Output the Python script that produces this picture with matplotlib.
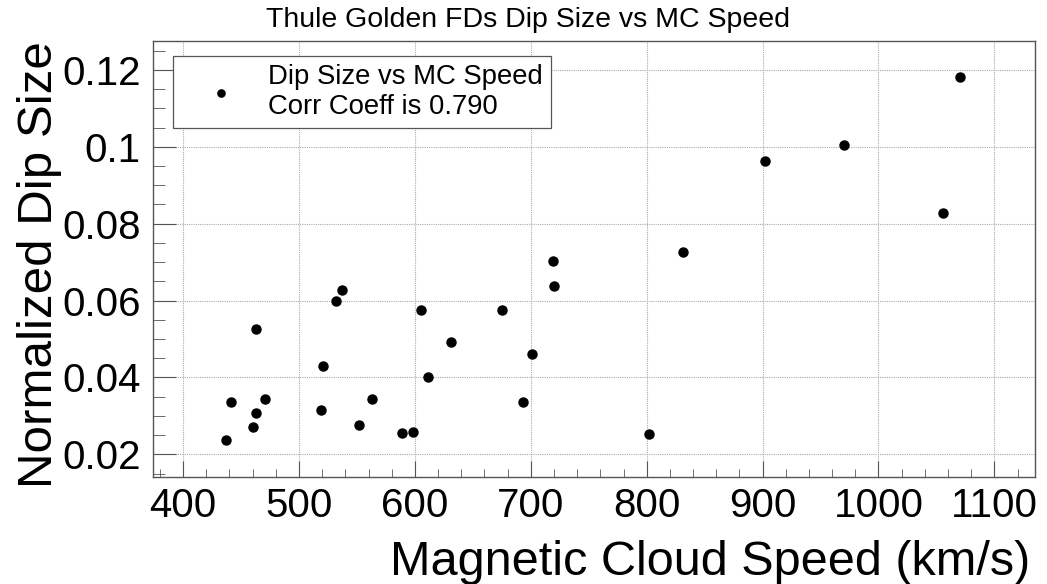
#!/usr/bin/env python3
from matplotlib import pyplot as plt
from matplotlib.ticker import MultipleLocator

# MC speed (km/s) and normalized dip size
mc_speed = [437, 441, 460, 463, 463, 471, 519, 521, 532, 537,
            552, 563, 589, 598, 605, 611, 631, 675, 693, 701,
            719, 720, 802, 831, 902, 970, 1056, 1070]
dip_size = [0.0236, 0.0335, 0.0271, 0.0308, 0.0525, 0.0344, 0.0314, 0.0430, 0.0600, 0.0628,
            0.0277, 0.0343, 0.0255, 0.0258, 0.0575, 0.0400, 0.0492, 0.0575, 0.0337, 0.0461,
            0.0703, 0.0638, 0.0253, 0.0727, 0.0963, 0.1004, 0.0827, 0.1181]
corr_coeff = 0.790

def plotDips():
	plt.rcParams['font.family'] = ['Liberation Sans', 'DejaVu Sans']
	fig = plt.figure(figsize=(10.47, 5.84), dpi=100)
	ax = fig.add_axes([0.1461, 0.1832, 0.8424, 0.7466])

	ax.plot(mc_speed, dip_size, 'o', color='black', markersize=6.5,
		label='Dip Size vs MC Speed\nCorr Coeff is %.3f' % corr_coeff)

	ax.set_xlim(374, 1135)
	ax.set_ylim(0.0141, 0.1275)
	ax.xaxis.set_major_locator(MultipleLocator(100))
	ax.xaxis.set_minor_locator(MultipleLocator(20))
	ax.yaxis.set_major_locator(MultipleLocator(0.02))
	ax.yaxis.set_minor_locator(MultipleLocator(0.005))
	ax.yaxis.set_major_formatter(plt.FuncFormatter(lambda v, p: ('%g' % round(v, 3))))

	ax.grid(True, which='major', linestyle=(0, (1, 1)), color='#aaaaaa', linewidth=0.8)
	for side in ax.spines.values():
		side.set_color('#555555')
		side.set_linewidth(1.0)
	ax.tick_params(axis='both', which='both', direction='in', colors='#555555',
		labelcolor='black', top=False, right=False)
	ax.tick_params(axis='x', which='major', length=11.5, labelsize=29, pad=7)
	ax.tick_params(axis='x', which='minor', length=5.8)
	ax.tick_params(axis='y', which='major', length=16.5, labelsize=29, pad=9)
	ax.tick_params(axis='y', which='minor', length=8.6)

	ax.set_xlabel('Magnetic Cloud Speed (km/s)', fontsize=35, ha='right', va='baseline')
	ax.xaxis.set_label_coords(0.9943, -0.2248)
	ax.set_ylabel('Normalized Dip Size', fontsize=35.5, ha='right', va='baseline')
	ax.yaxis.set_label_coords(-0.1145, 1.0)

	fig.text(0.504, 1 - 20 / 584, 'Thule Golden FDs Dip Size vs MC Speed',
		fontsize=20.5, ha='center', va='center')

	leg = ax.legend(loc='upper left', bbox_to_anchor=(0.0227, 0.9656), borderaxespad=0,
		fontsize=19.8, handlelength=2.91, handletextpad=0.25, borderpad=0.3,
		markerscale=0.8, fancybox=False, edgecolor='#555555', framealpha=1)
	leg.get_frame().set_linewidth(0.9)

	fig.savefig('out.png', format='png', dpi=100)

def main():
	plotDips()

if __name__ == '__main__':
	main()
